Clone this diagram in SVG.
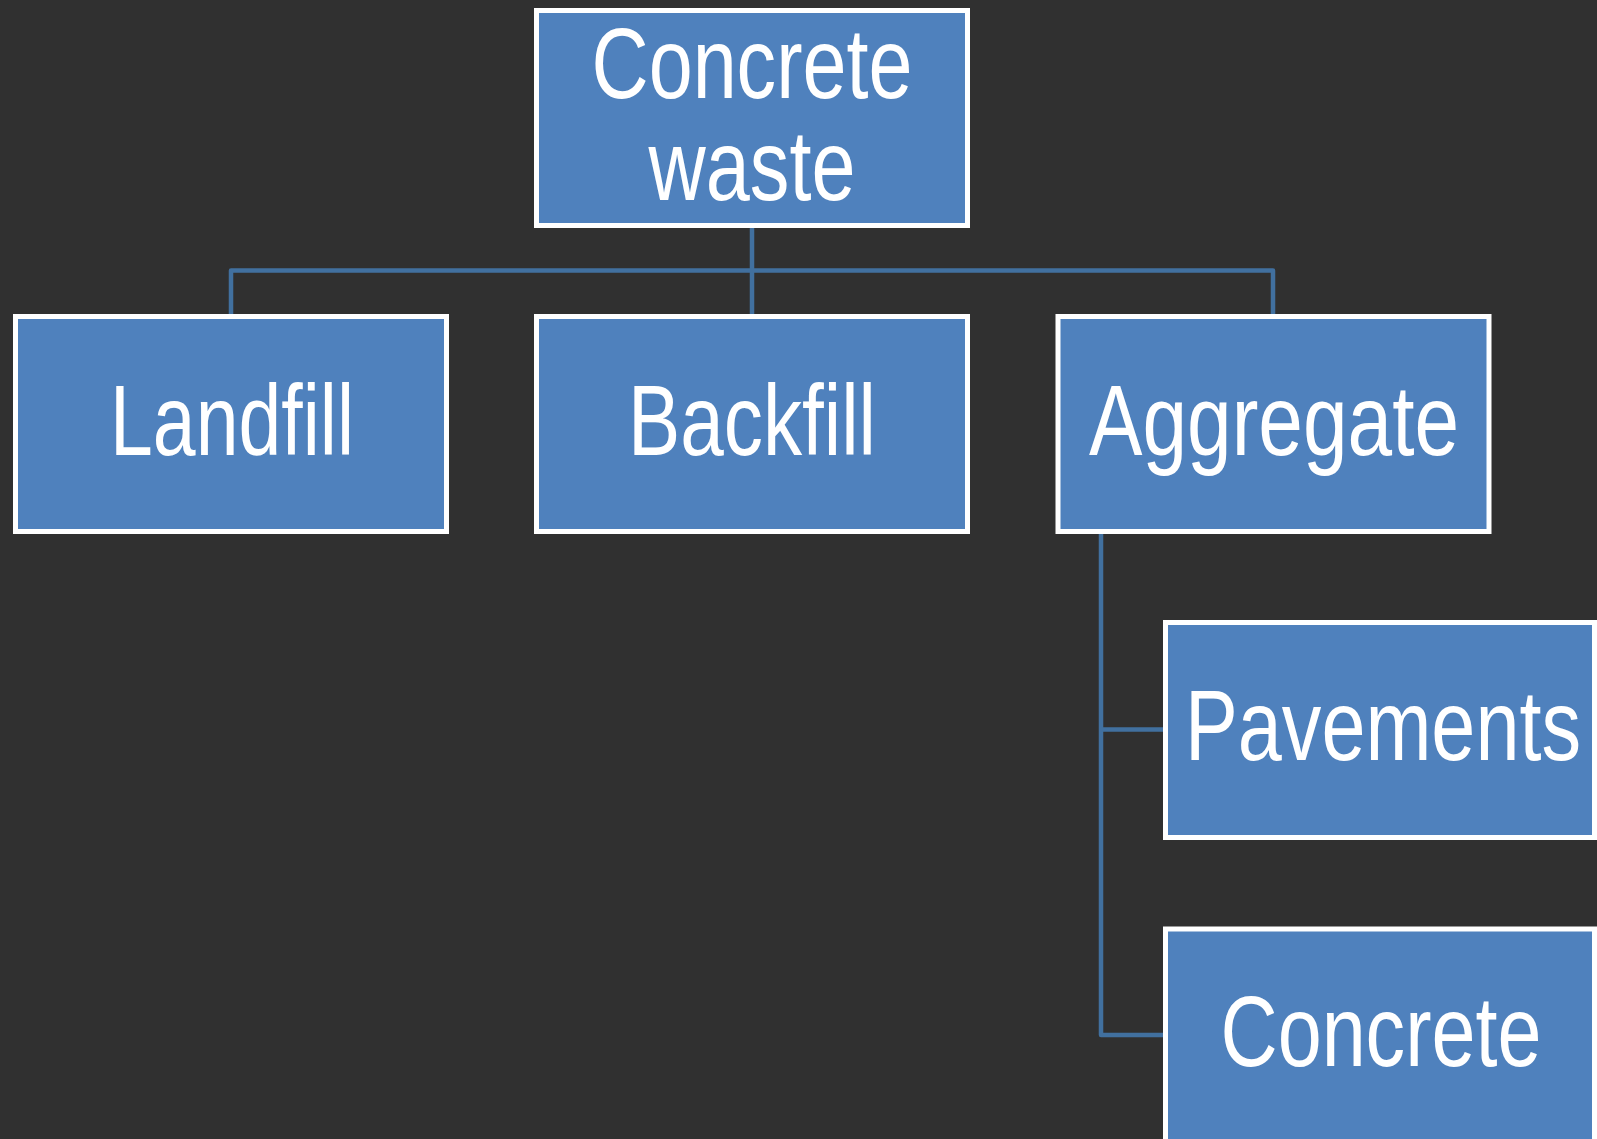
<svg xmlns="http://www.w3.org/2000/svg" width="1597" height="1139" viewBox="0 0 1597 1139">
<style>
.box{fill:#4F81BD;stroke:#FFFFFF;stroke-width:5;}
.lbl{font-family:"Liberation Sans Narrow","Liberation Sans",Arial,sans-serif;font-size:100px;fill:#FFFFFF;text-anchor:middle;}
.conn{fill:none;stroke:#41709F;stroke-width:4.5;stroke-linejoin:round;}
</style>
<rect x="0" y="0" width="1597" height="1139" fill="#303030"/>
<g id="connectors">
<path class="conn" d="M752,228 V314"/>
<path class="conn" d="M231,314 V270.5 H1273 V314"/>
<path class="conn" d="M1101,534 V1035 H1163"/>
<path class="conn" d="M1101,729.5 H1163"/>
</g>
<g id="node-concrete-waste">
<rect class="box" x="536.5" y="10.5" width="431" height="215"/>
<text class="lbl" x="752" y="98" textLength="321" lengthAdjust="spacingAndGlyphs">Concrete</text>
<text class="lbl" x="752" y="200" textLength="207" lengthAdjust="spacingAndGlyphs">waste</text>
</g>
<g id="node-landfill">
<rect class="box" x="15.5" y="316.5" width="431" height="215"/>
<text class="lbl" x="232" y="455" textLength="244" lengthAdjust="spacingAndGlyphs">Landfill</text>
</g>
<g id="node-backfill">
<rect class="box" x="536.5" y="316.5" width="431" height="215"/>
<text class="lbl" x="752" y="455" textLength="248" lengthAdjust="spacingAndGlyphs">Backfill</text>
</g>
<g id="node-aggregate">
<rect class="box" x="1058" y="316.5" width="431" height="215"/>
<text class="lbl" x="1274" y="455" textLength="370" lengthAdjust="spacingAndGlyphs">Aggregate</text>
</g>
<g id="node-pavements">
<rect class="box" x="1165.5" y="622.5" width="429" height="215"/>
<text class="lbl" x="1383" y="760" textLength="396" lengthAdjust="spacingAndGlyphs">Pavements</text>
</g>
<g id="node-concrete">
<rect class="box" x="1165.5" y="929" width="429" height="215"/>
<text class="lbl" x="1381" y="1066" textLength="321" lengthAdjust="spacingAndGlyphs">Concrete</text>
</g>
</svg>
